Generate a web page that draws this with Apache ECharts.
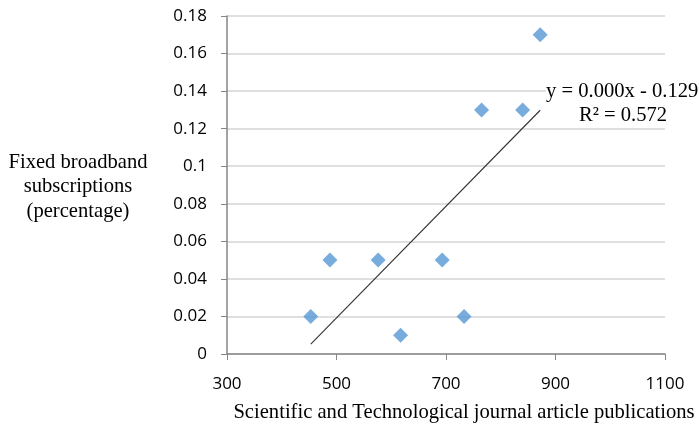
<!DOCTYPE html>
<html><head><meta charset="utf-8">
<script src="https://cdn.jsdelivr.net/npm/echarts@6/dist/echarts.min.js"></script>
<style>html,body{margin:0;padding:0;background:#fff}#c{width:699px;height:438px}</style>
</head><body><div id="c"></div>
<script>
const publications = [453, 488, 576, 617, 693, 733, 765, 840, 872];
const broadband = [0.02, 0.05, 0.05, 0.01, 0.05, 0.02, 0.13, 0.13, 0.17];
const xTicks = [300, 500, 700, 900, 1100];
const yTicks = [0, 0.02, 0.04, 0.06, 0.08, 0.1, 0.12, 0.14, 0.16, 0.18];
const xTitle = 'Scientific and Technological journal article publications';
const yTitle = 'Fixed broadband\nsubscriptions\n(percentage)';
const eqText = 'y = 0.000x - 0.129';
const r2Text = 'R\u00b2 = 0.572';

// least-squares trend line over the data range
const n = publications.length;
const mx = publications.reduce((a, b) => a + b, 0) / n;
const my = broadband.reduce((a, b) => a + b, 0) / n;
let sxy = 0, sxx = 0;
for (let i = 0; i < n; i++) { sxy += (publications[i] - mx) * (broadband[i] - my); sxx += (publications[i] - mx) ** 2; }
const slope = sxy / sxx, icpt = my - slope * mx;
const xmin = Math.min(...publications), xmax = Math.max(...publications);
const trend = [[xmin, icpt + slope * xmin], [xmax, icpt + slope * xmax]];

const chart = echarts.init(document.getElementById('c'));
const tickFont = { fontFamily: 'Open Sans', fontSize: 17, color: '#000' };
const serif = '20.6px "Liberation Serif"';
chart.setOption({
  animation: false,
  grid: { left: 227, right: 34, top: 16, bottom: 84 },
  xAxis: {
    type: 'value', min: xTicks[0], max: xTicks[xTicks.length - 1], interval: 200,
    axisLine: { show: true, lineStyle: { color: '#868686', width: 1.5 } },
    axisTick: { show: true, length: 6, lineStyle: { color: '#868686' } },
    splitLine: { show: false },
    axisLabel: Object.assign({ margin: 22, formatter: v => String(v) }, tickFont)
  },
  yAxis: {
    type: 'value', min: 0, max: yTicks[yTicks.length - 1], interval: 0.02,
    axisLine: { show: true, lineStyle: { color: '#868686', width: 1.5 } },
    axisTick: { show: true, length: 6, lineStyle: { color: '#868686' } },
    splitLine: { show: true, lineStyle: { color: '#d4d4d4', width: 1.5 } },
    axisLabel: Object.assign({ margin: 20, formatter: v => String(+v.toFixed(2)) }, tickFont)
  },
  series: [
    {
      type: 'line', data: trend, symbol: 'none', silent: true,
      lineStyle: { color: '#333', width: 1.1 }, z: 1
    },
    {
      type: 'scatter', data: publications.map((x, i) => [x, broadband[i]]),
      symbol: 'diamond', symbolSize: 15,
      itemStyle: { color: '#5597d3' }, z: 2
    }
  ],
  graphic: [
    { type: 'text', x: 464, y: 413, style: { text: xTitle, font: serif, fill: '#000', textAlign: 'center', textVerticalAlign: 'middle' } },
    { type: 'text', x: 78, y: 187, style: { text: yTitle, font: serif, lineHeight: 24.5, fill: '#000', textAlign: 'center', textVerticalAlign: 'middle' } },
    { type: 'text', x: 546, y: 92, z: 10, style: { text: eqText, font: serif, fill: '#000', backgroundColor: '#fff', textAlign: 'left', textVerticalAlign: 'middle' } },
    { type: 'text', x: 623, y: 116, z: 10, style: { text: r2Text, font: serif, fill: '#000', backgroundColor: '#fff', textAlign: 'center', textVerticalAlign: 'middle' } }
  ]
});
</script></body></html>
